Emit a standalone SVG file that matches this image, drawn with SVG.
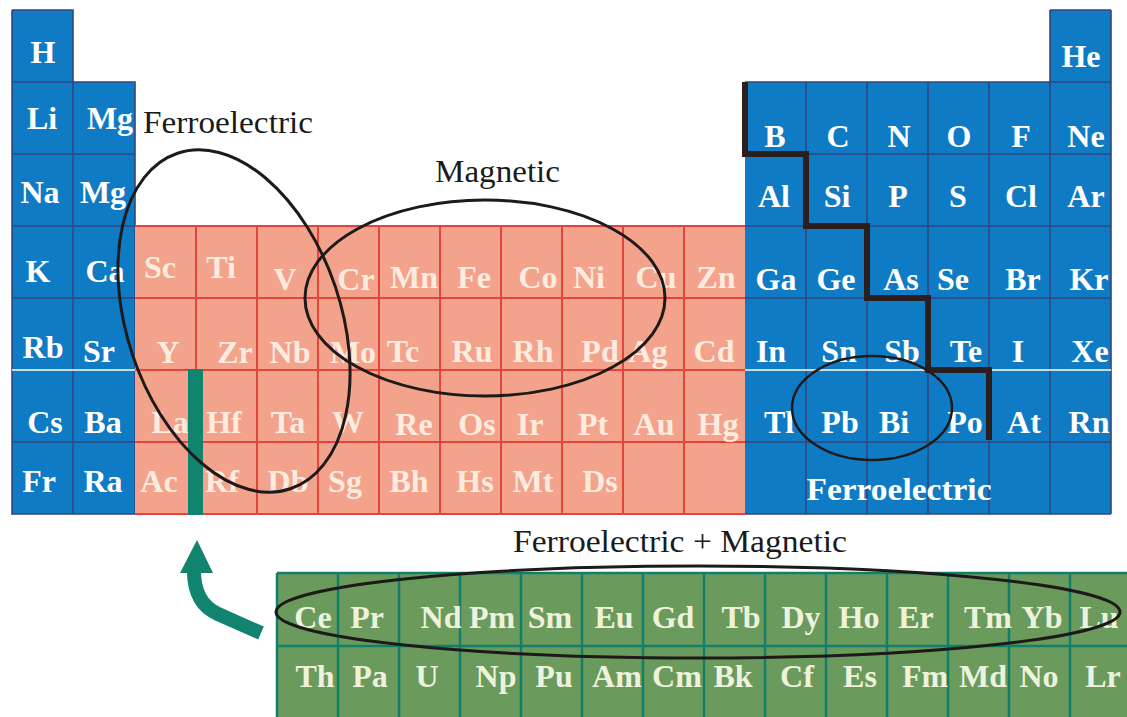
<svg xmlns="http://www.w3.org/2000/svg" width="1127" height="717" viewBox="0 0 1127 717">
<style>
.bl{fill:#0e7bc4}
.sa{fill:#f3a38b}
.gr{fill:#6a9b5d}
.gb{stroke:#33467f;stroke-width:1.6;fill:none}
.gl{stroke:#c9d9ee;stroke-width:2;fill:none}
.gs{stroke:#e5443a;stroke-width:2;fill:none}
.gg{stroke:#117f6c;stroke-width:2.5;fill:none}
text{font-family:"Liberation Serif","Times New Roman",serif}
.e{font-weight:bold;font-size:32px;text-anchor:middle}
.w{fill:#ffffff}
.p{fill:#fdebdf}
.c{fill:#eef2dc}
.lab{font-size:31px;fill:#1a1a1a}
.ov{fill:none;stroke:#1e1a1a;stroke-width:3}
</style>
<rect width="1127" height="717" fill="#ffffff"/>
<g id="s-block">
<rect class="bl" x="12" y="10" width="61" height="504"/>
<rect class="bl" x="73" y="82" width="62" height="432"/>
<path class="gb" d="M12 82H73M12 154H135M12 226H135M12 298H135M12 442H135M73 82V514M73 82H135V514M12 10H73V82M12 10V514H135"/>
<path class="gl" d="M12 370H135"/>
<g class="e w">
<text x="43" y="63">H</text>
<text x="42" y="129">Li</text><text x="110" y="129">Mg</text>
<text x="40" y="203">Na</text><text x="103" y="203">Mg</text>
<text x="38" y="282">K</text><text x="105" y="282">Ca</text>
<text x="43" y="358">Rb</text><text x="99" y="362">Sr</text>
<text x="45" y="433">Cs</text><text x="103" y="433">Ba</text>
<text x="39" y="492">Fr</text><text x="103" y="492">Ra</text>
</g>
</g>
<g id="d-block">
<rect class="sa" x="135" y="226" width="610" height="288"/>
<path class="gs" d="M135 226H745M135 298H745M135 370H745M135 442H745M135 514H745M196 226V514M257 226V514M318 226V514M379 226V514M440 226V514M501 226V514M562 226V514M623 226V514M684 226V514"/>
<g class="e p">
<text x="160" y="278">Sc</text><text x="221" y="278">Ti</text><text x="285" y="290">V</text><text x="356" y="290">Cr</text><text x="414" y="288">Mn</text><text x="474" y="288">Fe</text><text x="538" y="288">Co</text><text x="589" y="288">Ni</text><text x="656" y="288">Cu</text><text x="716" y="288">Zn</text>
<text x="168" y="363">Y</text><text x="235" y="363">Zr</text><text x="290" y="363">Nb</text><text x="353" y="363">Mo</text><text x="403" y="362">Tc</text><text x="472" y="362">Ru</text><text x="533" y="362">Rh</text><text x="600" y="362">Pd</text><text x="648" y="362">Ag</text><text x="714" y="362">Cd</text>
<text x="170" y="433">La</text><text x="224" y="433">Hf</text><text x="288" y="433">Ta</text><text x="348" y="433">W</text><text x="414" y="435">Re</text><text x="477" y="435">Os</text><text x="530" y="435">Ir</text><text x="593" y="435">Pt</text><text x="654" y="435">Au</text><text x="718" y="435">Hg</text>
<text x="159" y="492">Ac</text><text x="222" y="492">Rf</text><text x="288" y="492">Db</text><text x="345" y="492">Sg</text><text x="409" y="492">Bh</text><text x="475" y="492">Hs</text><text x="533" y="492">Mt</text><text x="600" y="492">Ds</text>
</g>
<rect x="188" y="369" width="15" height="146" fill="#118470"/>
</g>
<g id="p-block">
<rect class="bl" x="745" y="82" width="366" height="432"/>
<rect class="bl" x="1050" y="10" width="61" height="72"/>
<path class="gb" d="M745 82H1111M745 154H1111M745 226H1111M745 298H1111M745 442H1111M745 514H1111M806 82V514M867 82V514M928 82V514M989 82V514M1050 10V514M1111 10V514M1050 10H1111"/>
<path class="gl" d="M745 370H1111"/>
<path d="M745 82V154H806V226H867V298H928V370H989V440" fill="none" stroke="#2b1e1e" stroke-width="6"/>
<g class="e w">
<text x="1081" y="67">He</text>
<text x="775" y="147">B</text><text x="838" y="147">C</text><text x="899" y="147">N</text><text x="959" y="147">O</text><text x="1021" y="147">F</text><text x="1086" y="147">Ne</text>
<text x="774" y="207">Al</text><text x="837" y="207">Si</text><text x="898" y="207">P</text><text x="958" y="207">S</text><text x="1021" y="207">Cl</text><text x="1086" y="207">Ar</text>
<text x="776" y="290">Ga</text><text x="836" y="290">Ge</text><text x="901" y="290">As</text><text x="953" y="290">Se</text><text x="1023" y="290">Br</text><text x="1089" y="290">Kr</text>
<text x="771" y="362">In</text><text x="839" y="362">Sn</text><text x="902" y="362">Sb</text><text x="966" y="362">Te</text><text x="1018" y="362">I</text><text x="1090" y="362">Xe</text>
<text x="779" y="433">Tl</text><text x="840" y="433">Pb</text><text x="894" y="433">Bi</text><text x="965" y="433">Po</text><text x="1024" y="433">At</text><text x="1089" y="433">Rn</text>
</g>
<text class="e w" x="899" y="500" textLength="185" lengthAdjust="spacingAndGlyphs">Ferroelectric</text>
</g>
<g id="f-block">
<rect class="gr" x="277" y="573" width="850" height="144"/>
<path class="gg" d="M277 573H1127M277 646H1127M277 573V717M338 573V717M399 573V717M460 573V717M521 573V717M582 573V717M643 573V717M704 573V717M765 573V717M826 573V717M887 573V717M948 573V717M1009 573V717M1070 573V717"/>
<g class="e c">
<text x="313" y="628">Ce</text><text x="367" y="628">Pr</text><text x="441" y="628">Nd</text><text x="492" y="628">Pm</text><text x="550" y="628">Sm</text><text x="614" y="628">Eu</text><text x="673" y="628">Gd</text><text x="741" y="628">Tb</text><text x="801" y="628">Dy</text><text x="859" y="628">Ho</text><text x="916" y="628">Er</text><text x="988" y="628">Tm</text><text x="1042" y="628">Yb</text><text x="1099" y="628">Lu</text>
<text x="315" y="687">Th</text><text x="370" y="687">Pa</text><text x="427" y="687">U</text><text x="496" y="687">Np</text><text x="554" y="687">Pu</text><text x="617" y="687">Am</text><text x="677" y="687">Cm</text><text x="733" y="687">Bk</text><text x="797" y="687">Cf</text><text x="860" y="687">Es</text><text x="925" y="687">Fm</text><text x="983" y="687">Md</text><text x="1039" y="687">No</text><text x="1103" y="687">Lr</text>
</g>
</g>
<g id="annotations">
<ellipse class="ov" cx="234" cy="321" rx="107" ry="177" transform="rotate(-18.6 234 321)"/>
<ellipse class="ov" cx="485" cy="298" rx="180" ry="98"/>
<ellipse class="ov" cx="872" cy="408" rx="80" ry="52" style="stroke-width:2.5"/>
<ellipse class="ov" cx="698" cy="612" rx="422" ry="46"/>
<text class="lab" x="143" y="133" textLength="170" lengthAdjust="spacingAndGlyphs">Ferroelectric</text>
<text class="lab" x="435" y="182" textLength="125" lengthAdjust="spacingAndGlyphs">Magnetic</text>
<text class="lab" x="513" y="552" textLength="334" lengthAdjust="spacingAndGlyphs">Ferroelectric + Magnetic</text>
</g>
<g id="connectors">
<path d="M261 633L218 614Q193 603 194 568" fill="none" stroke="#118470" stroke-width="14"/>
<polygon points="197,540 180,573 213,573" fill="#118470"/>
</g>
</svg>
